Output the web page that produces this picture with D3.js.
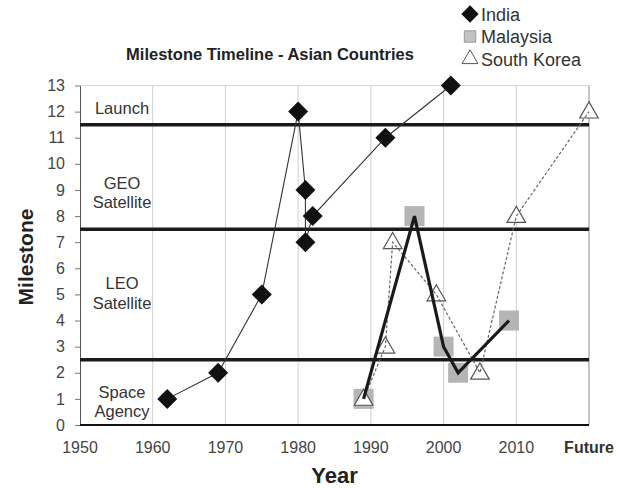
<!DOCTYPE html>
<html>
<head>
<meta charset="utf-8">
<script src="https://cdn.jsdelivr.net/npm/d3@7"></script>
<style>
  body { margin: 0; background: #fff; }
  svg { display: block; font-family: "Liberation Sans", Arial, sans-serif; }
</style>
</head>
<body>
<div id="chart"></div>
<script>
"use strict";

// Data ----------------------------------------------------------------------
const indiaYears = [1962, 1969, 1975, 1980, 1981, 1981, 1982, 1992, 2001],
  indiaMilestones = [1, 2, 5, 12, 9, 7, 8, 11, 13];

const malaysiaYears = [1989, 1996, 2000, 2002, 2009],
  malaysiaMilestones = [1, 8, 3, 2, 4];

const koreaYears = [1989, 1992, 1993, 1999, 2005, 2010, 2020],
  koreaMilestones = [1, 3, 7, 5, 2, 8, 12];

const xTickYears = [1950, 1960, 1970, 1980, 1990, 2000, 2010, 2020],
  xTickLabels = ["1950", "1960", "1970", "1980", "1990", "2000", "2010", "Future"];

const yTicks = d3.range(0, 14);

// stage boundaries and their labels
const stageBounds = [2.5, 7.5, 11.5],
  stageLabels = [["Launch"], ["GEO", "Satellite"], ["LEO", "Satellite"], ["Space", "Agency"]],
  stageLabelLevels = [12.15, 8.9, 5.05, 0.9];

const seriesNames = ["India", "Malaysia", "South Korea"];

const width = 617,
  height = 489;

const margin = { top: 85.5, right: 28, bottom: 64, left: 80 };

const svg = d3
  .select("#chart")
  .append("svg")
  .attr("width", width)
  .attr("height", height)
  .attr("viewBox", [0, 0, width, height]);

const x = d3
  .scaleLinear()
  .domain([1950, 2020])
  .range([margin.left, width - margin.right]);

const y = d3
  .scaleLinear()
  .domain([0, 13])
  .range([height - margin.bottom, margin.top]);

const toPoints = (xs, ys) => xs.map((d, i) => ({ year: d, value: ys[i] }));
const india = toPoints(indiaYears, indiaMilestones),
  malaysia = toPoints(malaysiaYears, malaysiaMilestones),
  korea = toPoints(koreaYears, koreaMilestones);

// Gridlines --------------------------------------------------------------
svg
  .append("g")
  .selectAll("line")
  .data(xTickYears.slice(1, -1))
  .join("line")
  .attr("x1", (d) => x(d))
  .attr("x2", (d) => x(d))
  .attr("y1", y(13))
  .attr("y2", y(0))
  .attr("stroke", "#cfcfcf");

svg
  .append("line")
  .attr("x1", x(1950))
  .attr("x2", x(2020))
  .attr("y1", y(13))
  .attr("y2", y(13))
  .attr("stroke", "#d6d6d6");

svg
  .append("line")
  .attr("x1", x(2020))
  .attr("x2", x(2020))
  .attr("y1", y(13))
  .attr("y2", y(0))
  .attr("stroke", "#8a8a8a");

// Y axis
svg
  .append("g")
  .attr("transform", `translate(${x(1950)},0)`)
  .call(d3.axisLeft(y).tickValues(yTicks).tickSize(5).tickPadding(10).tickSizeOuter(0))
  .call((g) => g.select(".domain").attr("stroke", "#555"))
  .call((g) => g.selectAll(".tick line").attr("stroke", "#777"))
  .call((g) =>
    g
      .selectAll(".tick text")
      .attr("fill", "#444")
      .attr("font-size", 16)
      .attr("font-family", null)
  );

// X axis labels
svg
  .append("g")
  .selectAll("text")
  .data(xTickYears)
  .join("text")
  .attr("x", (d) => x(d))
  .attr("y", y(0) + 28)
  .attr("text-anchor", "middle")
  .attr("fill", (d, i) => (i === xTickYears.length - 1 ? "#333" : "#444"))
  .attr("font-size", 16)
  .attr("font-weight", (d, i) => (i === xTickYears.length - 1 ? "bold" : null))
  .text((d, i) => xTickLabels[i]);

svg
  .append("line")
  .attr("x1", x(1950))
  .attr("x2", x(2020))
  .attr("y1", y(0))
  .attr("y2", y(0))
  .attr("stroke", "#111")
  .attr("stroke-width", 2);

// Stage boundary lines
svg
  .append("g")
  .selectAll("line")
  .data(stageBounds)
  .join("line")
  .attr("x1", x(1950))
  .attr("x2", x(2020))
  .attr("y1", (d) => y(d))
  .attr("y2", (d) => y(d))
  .attr("stroke", "#1a1a1a")
  .attr("stroke-width", 3.5);

// Stage labels
svg
  .append("g")
  .selectAll("text")
  .data(stageLabels)
  .join("text")
  .attr("text-anchor", "middle")
  .attr("font-size", 16.5)
  .attr("fill", "#333")
  .each(function (lines, i) {
    const t = d3.select(this);
    const cy = y(stageLabelLevels[i]);
    const lh = 19.5;
    lines.forEach((s, j) => {
      t.append("tspan")
        .attr("x", 122)
        .attr("y", cy + 6 + (j - (lines.length - 1) / 2) * lh)
        .text(s);
    });
  });

// Markers -----------------------------------------------------------------
const diamond = d3.symbol(d3.symbolSquare, 200),
  square = d3.symbol(d3.symbolSquare, 400),
  triangle = d3.symbol(d3.symbolTriangle, 150);

svg
  .append("g")
  .selectAll("path")
  .data(malaysia)
  .join("path")
  .attr("d", square)
  .attr("transform", (d) => `translate(${x(d.year)},${y(d.value)})`)
  .attr("fill", "#b5b5b5");

svg
  .append("g")
  .selectAll("path")
  .data(korea)
  .join("path")
  .attr("d", triangle)
  .attr("transform", (d) => `translate(${x(d.year)},${y(d.value) + 1})`)
  .attr("fill", "#fff")
  .attr("stroke", "#555")
  .attr("stroke-width", 1.2);

// Lines
const line = d3
  .line()
  .x((d) => x(d.year))
  .y((d) => y(d.value));

svg
  .append("path")
  .datum(korea)
  .attr("d", line)
  .attr("fill", "none")
  .attr("stroke", "#666")
  .attr("stroke-width", 1.2)
  .attr("stroke-dasharray", "3,2");

svg
  .append("path")
  .datum(malaysia)
  .attr("d", line)
  .attr("fill", "none")
  .attr("stroke", "#1a1a1a")
  .attr("stroke-width", 3.2)
  .attr("stroke-linejoin", "miter");

svg
  .append("path")
  .datum(india)
  .attr("d", line)
  .attr("fill", "none")
  .attr("stroke", "#333")
  .attr("stroke-width", 1.1);

svg
  .append("g")
  .selectAll("path")
  .data(india)
  .join("path")
  .attr("d", diamond)
  .attr("transform", (d) => `translate(${x(d.year)},${y(d.value)}) rotate(45)`)
  .attr("fill", "#111");

// Titles ----------------------------------------------------------------
svg
  .append("text")
  .attr("x", 270)
  .attr("y", 60)
  .attr("text-anchor", "middle")
  .attr("font-size", 16.5)
  .attr("font-weight", "bold")
  .attr("fill", "#222")
  .text("Milestone Timeline - Asian Countries");

svg
  .append("text")
  .attr("x", (x(1950) + x(2020)) / 2)
  .attr("y", 483)
  .attr("text-anchor", "middle")
  .attr("font-size", 22)
  .attr("font-weight", "bold")
  .attr("fill", "#222")
  .text("Year");

svg
  .append("text")
  .attr("transform", `translate(33,257) rotate(-90)`)
  .attr("text-anchor", "middle")
  .attr("font-size", 21)
  .attr("font-weight", "bold")
  .attr("fill", "#222")
  .text("Milestone");

// Legend
const legendSymbols = [
  { d: d3.symbol(d3.symbolSquare, 150)(), rot: 45, fill: "#111", stroke: "none" },
  { d: d3.symbol(d3.symbolSquare, 130)(), rot: 0, fill: "#c2c2c2", stroke: "#999" },
  { d: d3.symbol(d3.symbolTriangle, 110)(), rot: 0, fill: "#fff", stroke: "#555" },
];

const legend = svg
  .append("g")
  .selectAll("g")
  .data(seriesNames)
  .join("g")
  .attr("transform", (d, i) => `translate(470,${14 + i * 22.5})`);

legend
  .append("path")
  .attr("d", (d, i) => legendSymbols[i].d)
  .attr("transform", (d, i) => `rotate(${legendSymbols[i].rot})`)
  .attr("fill", (d, i) => legendSymbols[i].fill)
  .attr("stroke", (d, i) => legendSymbols[i].stroke);

legend
  .append("text")
  .attr("x", 11)
  .attr("y", 6.5)
  .attr("font-size", 18)
  .attr("fill", "#333")
  .text((d) => d);
</script>
</body>
</html>
